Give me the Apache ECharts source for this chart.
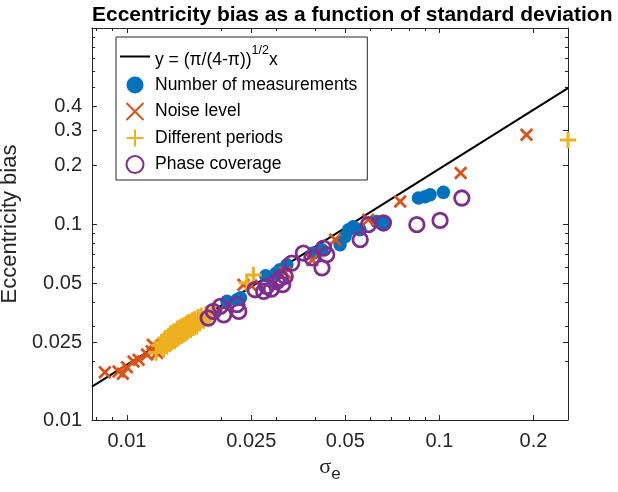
<!DOCTYPE html>
<html>
<head>
<meta charset="utf-8">
<script src="https://cdn.jsdelivr.net/npm/echarts@6/dist/echarts.min.js"></script>
<style>
html, body { margin: 0; padding: 0; background: #fff; }
#main { width: 618px; height: 492px; }
</style>
</head>
<body>
<div id="main"></div>
<script>
// axis ranges and ticks
const xRange = [0.00773, 0.258];
const yRange = [0.01, 1];
const xMajor = [0.01, 0.025, 0.05, 0.1, 0.2];
const xMinor = [0.008, 0.009, 0.02, 0.03, 0.04, 0.06, 0.07, 0.08, 0.09];
const yMajor = [0.01, 0.025, 0.05, 0.1, 0.2, 0.3, 0.4];
const yMinor = [0.02, 0.03, 0.04, 0.06, 0.07, 0.08, 0.09, 0.5, 0.6, 0.7, 0.8, 0.9];

// theory line y = (pi/(4-pi))^(1/2) x
const lineName = 'y = (π/(4-π))^1/2 x';
const lineX = [0.00773, 0.258];
const k = Math.sqrt(Math.PI / (4 - Math.PI));

// Number of measurements
const measX = [0.0209, 0.0225, 0.0231, 0.0278, 0.0300, 0.0309, 0.0325, 0.0395, 0.0421, 0.0481, 0.0499, 0.0512, 0.0530, 0.0557, 0.0630, 0.0662, 0.0857, 0.0900, 0.0934, 0.1030];
const measY = [0.0403, 0.0411, 0.0420, 0.0545, 0.0560, 0.0585, 0.0620, 0.0711, 0.0739, 0.0784, 0.0861, 0.0935, 0.0969, 0.0935, 0.1031, 0.1012, 0.1357, 0.1378, 0.1410, 0.1450];

// Noise level
const noiseX = [0.0085, 0.0094, 0.0097, 0.0100, 0.0105, 0.0109, 0.0116, 0.0120, 0.0125, 0.0121, 0.0236, 0.0250, 0.0321, 0.0392, 0.0464, 0.0592, 0.0749, 0.1170, 0.1900];
const noiseY = [0.0175, 0.0177, 0.0172, 0.0186, 0.0199, 0.0203, 0.0216, 0.0224, 0.0220, 0.0242, 0.0490, 0.0485, 0.0564, 0.0656, 0.0832, 0.1050, 0.1304, 0.1820, 0.2855];

// Different periods
const periodX = [0.0124, 0.0127, 0.0129, 0.0131, 0.0133, 0.0134, 0.0136, 0.0137, 0.0138, 0.0139, 0.0140, 0.0141, 0.0142, 0.0143, 0.0144, 0.0145, 0.0146, 0.0147, 0.0148, 0.0148, 0.0149, 0.0150, 0.0151, 0.0152, 0.0153, 0.0153, 0.0154, 0.0155, 0.0156, 0.0157, 0.0158, 0.0159, 0.0160, 0.0161, 0.0162, 0.0163, 0.0165, 0.0166, 0.0167, 0.0169, 0.0171, 0.0173, 0.0176, 0.0179, 0.0183, 0.0187, 0.0191, 0.0242, 0.0254, 0.2580];
const periodY = [0.0221, 0.0240, 0.0249, 0.0229, 0.0262, 0.0238, 0.0268, 0.0245, 0.0276, 0.0250, 0.0262, 0.0281, 0.0253, 0.0284, 0.0258, 0.0291, 0.0263, 0.0295, 0.0268, 0.0281, 0.0298, 0.0270, 0.0301, 0.0275, 0.0304, 0.0283, 0.0278, 0.0310, 0.0282, 0.0314, 0.0290, 0.0316, 0.0289, 0.0306, 0.0322, 0.0296, 0.0328, 0.0308, 0.0300, 0.0334, 0.0312, 0.0340, 0.0322, 0.0347, 0.0336, 0.0355, 0.0362, 0.0501, 0.0549, 0.2680];

// Phase coverage
const phaseX = [0.0182, 0.0189, 0.0199, 0.0204, 0.0225, 0.0228, 0.0257, 0.0274, 0.0280, 0.0290, 0.0302, 0.0309, 0.0315, 0.0321, 0.0337, 0.0367, 0.0391, 0.0421, 0.0426, 0.0436, 0.0558, 0.0593, 0.0662, 0.0847, 0.1005, 0.1180];
const phaseY = [0.0331, 0.0358, 0.0380, 0.0344, 0.0388, 0.0358, 0.0462, 0.0453, 0.0480, 0.0465, 0.0509, 0.0530, 0.0490, 0.0540, 0.0632, 0.0711, 0.0671, 0.0597, 0.0754, 0.0697, 0.0832, 0.0992, 0.1012, 0.0992, 0.1043, 0.1357];

const zip = (xs, ys) => xs.map((x, i) => [x, ys[i]]);

const axisColor = '#262626';
const font = "'Liberation Sans', Arial, sans-serif";
const fmt = v => String(+Number(v).toPrecision(4));

function xAxisDef(pos, ticks, len, main) {
    return {
        type: 'log',
        position: pos,
        min: xRange[0],
        max: xRange[1],
        axisLine: { show: main, onZero: false, lineStyle: { color: axisColor, width: 1 } },
        axisTick: { show: true, inside: true, length: len, customValues: ticks, lineStyle: { color: axisColor, width: 1 } },
        axisLabel: { show: main && pos === 'bottom', customValues: ticks, formatter: fmt, color: axisColor, fontSize: 20, fontFamily: font, margin: 11 },
        splitLine: { show: false },
        minorTick: { show: false }
    };
}
function yAxisDef(pos, ticks, len, main) {
    return {
        type: 'log',
        position: pos,
        min: yRange[0],
        max: yRange[1],
        axisLine: { show: main, onZero: false, lineStyle: { color: axisColor, width: 1 } },
        axisTick: { show: true, inside: true, length: len, customValues: ticks, lineStyle: { color: axisColor, width: 1 } },
        axisLabel: { show: main && pos === 'left', customValues: ticks, formatter: fmt, color: axisColor, fontSize: 20, fontFamily: font, margin: 10 },
        splitLine: { show: false },
        minorTick: { show: false }
    };
}

const xAxes = [
    xAxisDef('bottom', xMajor, 5, true),
    xAxisDef('bottom', xMinor, 3, false),
    xAxisDef('top', xMajor, 5, true),
    xAxisDef('top', xMinor, 3, false)
];
xAxes[0].name = '{s|σ}{e|e}';
xAxes[0].nameLocation = 'middle';
xAxes[0].nameGap = 36;
xAxes[0].nameTextStyle = {
    rich: {
        s: { fontSize: 22, fontFamily: "'Liberation Serif', serif", color: axisColor, lineHeight: 27, verticalAlign: 'top' },
        e: { fontSize: 17, fontFamily: font, color: axisColor, lineHeight: 27, verticalAlign: 'bottom' }
    }
};

const yAxes = [
    yAxisDef('left', yMajor, 5, true),
    yAxisDef('left', yMinor, 3, false),
    yAxisDef('right', yMajor, 5, true),
    yAxisDef('right', yMinor, 3, false)
];
yAxes[0].name = 'Eccentricity bias';
yAxes[0].nameLocation = 'middle';
yAxes[0].nameGap = 56;
yAxes[0].nameTextStyle = { fontSize: 22, fontFamily: font, color: axisColor };

let myChart = echarts.init(document.getElementById('main'));
myChart.setOption({
    animation: false,
    backgroundColor: '#fff',
    title: {
        text: 'Eccentricity bias as a function of standard deviation',
        left: 87,
        top: 0,
        textStyle: { fontSize: 21, fontWeight: 'bold', color: '#000', fontFamily: font }
    },
    grid: { left: 92, top: 28, width: 476, height: 392, containLabel: false, outerBoundsMode: 'none' },
    legend: {
        orient: 'vertical',
        left: 116,
        top: 37,
        padding: [7, 10, 5, 4],
        itemGap: 5.5,
        itemWidth: 30,
        itemHeight: 17,
        backgroundColor: '#fff',
        borderColor: axisColor,
        borderWidth: 1,
        textStyle: {
            fontSize: 17.5,
            fontFamily: font,
            color: '#000',
            lineHeight: 21,
            rich: {
                n: { fontSize: 17.5, fontFamily: font, color: '#000', lineHeight: 25, verticalAlign: 'bottom' },
                sup: { fontSize: 12.5, fontFamily: font, color: '#000', lineHeight: 25, verticalAlign: 'top' }
            }
        },
        formatter: name => name === lineName ? '{n|y = (π/(4-π))}{sup|1/2}{n|x}' : name,
        data: [
            { name: lineName, icon: 'path://M0,0L30,0L30,2L0,2Z' },
            'Number of measurements', 'Noise level', 'Different periods', 'Phase coverage'
        ]
    },
    xAxis: xAxes,
    yAxis: yAxes,
    series: [
        {
            name: lineName,
            type: 'line',
            data: lineX.map(x => [x, k * x]),
            symbol: 'none',
            lineStyle: { color: '#000', width: 2 },
            itemStyle: { color: '#000' },
            z: 2
        },
        {
            name: 'Number of measurements',
            type: 'scatter',
            data: zip(measX, measY),
            symbol: 'circle',
            symbolSize: 13.5,
            itemStyle: { color: '#0072BD', opacity: 1 },
            z: 3
        },
        {
            name: 'Noise level',
            type: 'scatter',
            data: zip(noiseX, noiseY),
            symbol: 'path://M0,0L10,10M10,0L0,10',
            symbolSize: 11.5,
            itemStyle: { color: '#D95319', borderColor: '#D95319', borderWidth: 2.8, opacity: 1 },
            z: 4
        },
        {
            name: 'Different periods',
            type: 'scatter',
            data: zip(periodX, periodY),
            symbol: 'path://M5,0L5,10M0,5L10,5',
            symbolSize: 16.5,
            itemStyle: { color: '#EDB120', borderColor: '#EDB120', borderWidth: 3, opacity: 1 },
            z: 5
        },
        {
            name: 'Phase coverage',
            type: 'scatter',
            data: zip(phaseX, phaseY),
            symbol: 'circle',
            symbolSize: 14.5,
            itemStyle: { color: 'rgba(0,0,0,0)', borderColor: '#7E2F8E', borderWidth: 2.8, opacity: 1 },
            z: 6
        }
    ]
});
</script>
</body>
</html>
